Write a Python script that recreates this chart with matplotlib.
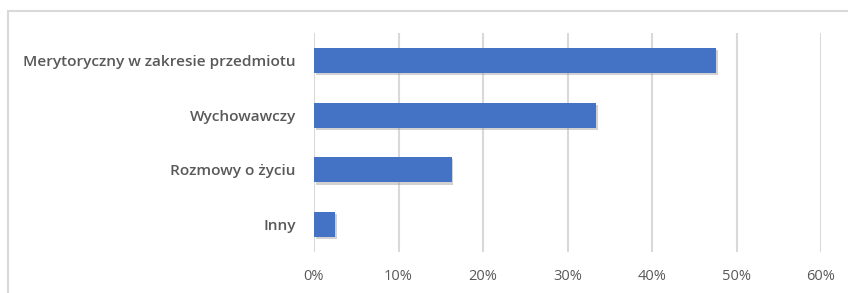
import matplotlib.pyplot as plt
import matplotlib.patheffects as pe
from matplotlib.patches import Rectangle
from matplotlib.ticker import PercentFormatter

categories = ["Merytoryczny w zakresie przedmiotu", "Wychowawczy", "Rozmowy o życiu", "Inny"]
values = [47.6, 33.4, 16.3, 2.5]
xticks = [0, 10, 20, 30, 40, 50, 60]

plt.rcParams['font.family'] = ['Open Sans', 'DejaVu Sans']

fig = plt.figure(figsize=(8.48, 2.93), dpi=100)
ax = fig.add_axes([314/848, 1 - 252/293, (821 - 314)/848, (252 - 33)/293])

# chart frame (light grey, runs off the right and bottom edges)
fig.patches.append(Rectangle((8/848, -0.1), 1.0, 1 - 11/293 + 0.1, transform=fig.transFigure,
                             fill=False, edgecolor='#d9d9d9', linewidth=1.5))

y = list(range(len(categories)))
bars = ax.barh(y, values, height=0.46, color='#4472c4', zorder=3)
for b in bars:
    b.set_path_effects([pe.SimplePatchShadow(offset=(1.2, -1.5), shadow_rgbFace='#999999', alpha=0.45), pe.Normal()])

ax.set_ylim(len(categories) - 0.5, -0.5)
ax.set_xlim(0, 60)
ax.set_xticks(xticks)
ax.xaxis.set_major_formatter(PercentFormatter(decimals=0))
ax.set_yticks(y)
ax.set_yticklabels(categories, fontweight='semibold', fontsize=11.1)

ax.grid(axis='x', color='#d9d9d9', linewidth=1.5, zorder=0)
for s in ax.spines.values():
    s.set_visible(False)
ax.tick_params(axis='both', length=0, colors='#595959')
ax.tick_params(axis='x', labelsize=10.5, pad=12)
ax.tick_params(axis='y', pad=13)

fig.savefig('out.png', dpi=100)
